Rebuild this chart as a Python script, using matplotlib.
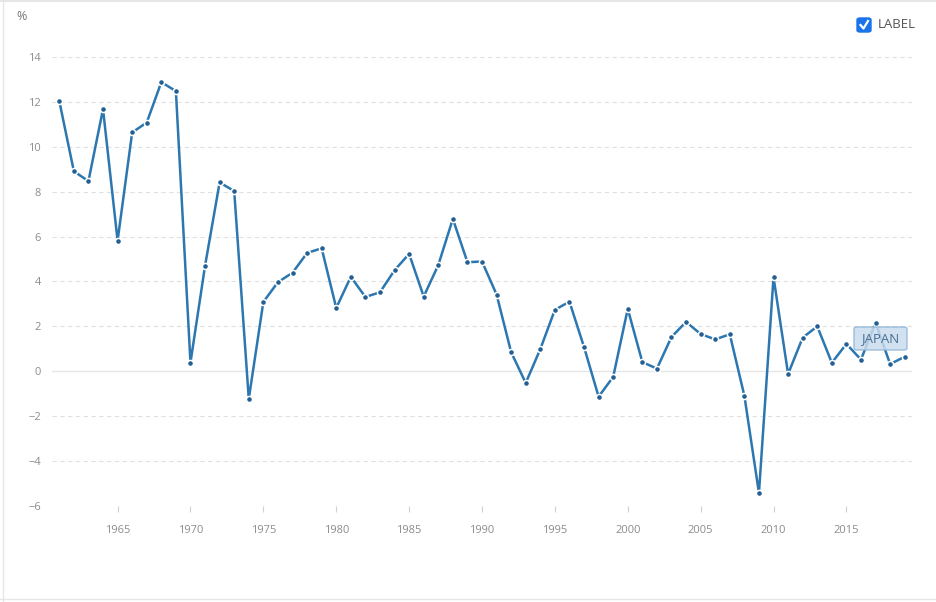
import matplotlib.pyplot as plt
from matplotlib.patches import FancyBboxPatch

plt.rcParams['font.family'] = ['Open Sans', 'DejaVu Sans']

years = list(range(1961, 2020))
growth = [12.04, 8.91, 8.47, 11.68, 5.82, 10.64, 11.08, 12.88, 12.48, 0.39,
          4.70, 8.41, 8.03, -1.23, 3.09, 3.97, 4.39, 5.27, 5.48, 2.82,
          4.21, 3.31, 3.52, 4.50, 5.23, 3.33, 4.73, 6.79, 4.86, 4.89,
          3.42, 0.85, -0.52, 0.99, 2.74, 3.10, 1.08, -1.13, -0.25, 2.78,
          0.41, 0.12, 1.53, 2.20, 1.66, 1.42, 1.65, -1.09, -5.42, 4.19,
          -0.12, 1.50, 2.00, 0.38, 1.22, 0.52, 2.17, 0.32, 0.65]
yticks = [-6, -4, -2, 0, 2, 4, 6, 8, 10, 12, 14]
xticks = [1965, 1970, 1975, 1980, 1985, 1990, 1995, 2000, 2005, 2010, 2015]

W, H = 936, 602
fig = plt.figure(figsize=(W / 100, H / 100), dpi=100)
ax = fig.add_axes([52 / W, 1 - 506 / H, (912 - 52) / W, (506 - 57) / H])

for v in yticks:
    if v == 0:
        ax.axhline(v, color='#e6e6e6', lw=1, zorder=0)
    else:
        ax.axhline(v, color='#e0e0e0', lw=0.8, ls=(0, (4, 3)), zorder=0)

ax.plot(years, growth, color='#2c77b0', lw=1.8, zorder=3)
ax.plot(years, growth, ls='none', marker='o', ms=4.4, mew=1.1,
        markeredgecolor='white', markerfacecolor='#245f93', zorder=4)

ax.set_xlim(1960.5, 2019.5)
ax.set_ylim(-6, 14)
ax.set_yticks(yticks)
ax.set_xticks(xticks)
ax.tick_params(axis='y', length=0, pad=8, labelsize=8, labelcolor='#8c8c8c')
ax.tick_params(axis='x', length=4, width=0.8, color='#d0d0d0', pad=10,
               labelsize=8, labelcolor='#8c8c8c')
for s in ax.spines.values():
    s.set_visible(False)

# unit label
fig.text(16 / W, 1 - 17 / H, '%', fontsize=9, color='#777777', va='center')

# legend checkbox
cb = FancyBboxPatch((857 / W, 1 - 32 / H), 14 / W, 14 / H,
                    boxstyle='round,pad=0,rounding_size=0.003',
                    transform=fig.transFigure, facecolor='#1a73e8',
                    edgecolor='#1a73e8')
fig.patches.append(cb)
fig.lines.append(plt.Line2D([860.5 / W, 863.5 / W, 868 / W],
                            [1 - 25 / H, 1 - 28.5 / H, 1 - 21 / H],
                            transform=fig.transFigure, color='white', lw=1.6))
fig.text(878 / W, 1 - 25 / H, 'LABEL', fontsize=9.5, color='#555555', va='center')

# tooltip
tip = FancyBboxPatch((854 / W, 1 - 350 / H), 53 / W, 23 / H,
                     boxstyle='round,pad=0,rounding_size=0.003',
                     transform=fig.transFigure, facecolor='#c9dcee',
                     edgecolor='#8fb4d6', lw=1, alpha=0.85, zorder=5)
fig.patches.append(tip)
fig.text(880.5 / W, 1 - 339 / H, 'JAPAN', fontsize=9.5, color='#4a6f94',
         ha='center', va='center', zorder=6)

# frame lines
fig.lines.append(plt.Line2D([3 / W, 3 / W], [0, 1], transform=fig.transFigure,
                            color='#e6e6e6', lw=1))
fig.lines.append(plt.Line2D([0, 1], [1 - 1 / H, 1 - 1 / H], transform=fig.transFigure,
                            color='#e6e6e6', lw=1.5))
fig.lines.append(plt.Line2D([0, 1], [1 - 599 / H, 1 - 599 / H], transform=fig.transFigure,
                            color='#e6e6e6', lw=1))

fig.savefig('out.png', dpi=100, facecolor='white')
